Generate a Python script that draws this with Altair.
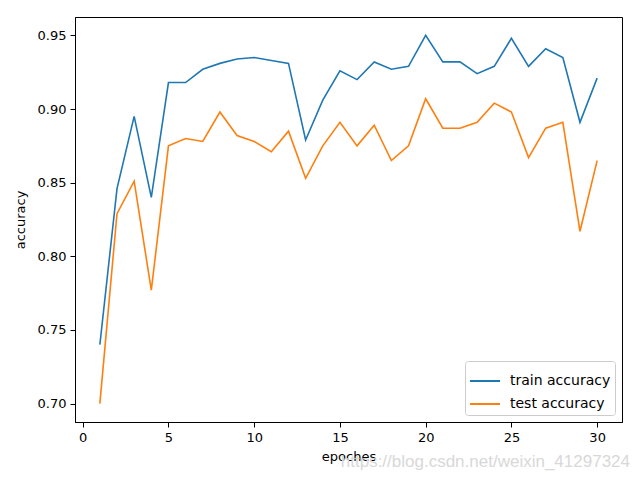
import altair as alt
import pandas as pd

epochs = list(range(1, 31))
train_acc = [0.740, 0.846, 0.895, 0.840, 0.918, 0.918, 0.927, 0.931, 0.934, 0.935,
             0.933, 0.931, 0.879, 0.906, 0.926, 0.920, 0.932, 0.927, 0.929, 0.950,
             0.932, 0.932, 0.924, 0.929, 0.948, 0.929, 0.941, 0.935, 0.891, 0.921]
test_acc = [0.700, 0.829, 0.851, 0.777, 0.875, 0.880, 0.878, 0.898, 0.882, 0.878,
            0.871, 0.885, 0.853, 0.875, 0.891, 0.875, 0.889, 0.865, 0.875, 0.907,
            0.887, 0.887, 0.891, 0.904, 0.898, 0.867, 0.887, 0.891, 0.817, 0.865]
series_names = ["train accuracy", "test accuracy"]
x_ticks = [0, 5, 10, 15, 20, 25, 30]
y_ticks = [0.70, 0.75, 0.80, 0.85, 0.90, 0.95]
watermark = "https://blog.csdn.net/weixin_41297324"

df = pd.DataFrame({
    "epoch": epochs * 2,
    "accuracy": train_acc + test_acc,
    "series": [series_names[0]] * 30 + [series_names[1]] * 30,
})

font = "DejaVu Sans"

lines = alt.Chart(df).mark_line(strokeWidth=1.6).encode(
    x=alt.X("epoch:Q",
            scale=alt.Scale(domain=[-0.45, 31.45], nice=False, zero=False),
            axis=alt.Axis(values=x_ticks, title="epoches", format="d",
                          titlePadding=6)),
    y=alt.Y("accuracy:Q",
            scale=alt.Scale(domain=[0.6875, 0.9625], nice=False, zero=False),
            axis=alt.Axis(values=y_ticks, title="accuracy", format=".2f",
                          titlePadding=10)),
    color=alt.Color("series:N",
                    scale=alt.Scale(domain=series_names, range=["#1f77b4", "#ff7f0e"]),
                    sort=series_names,
                    legend=alt.Legend(title=None, orient="bottom-right", offset=7,
                                      symbolType="stroke", symbolSize=900,
                                      symbolStrokeWidth=2, labelFontSize=14,
                                      labelFont=font, labelColor="black",
                                      strokeColor="#cccccc", fillColor="white",
                                      padding=4, cornerRadius=3, rowPadding=0,
                                      labelOffset=9)),
)

wm = alt.Chart(pd.DataFrame({"t": [watermark]})).mark_text(
    align="right", baseline="alphabetic", fontSize=17, font="Liberation Sans",
    color="#d8d8d8"
).encode(
    text="t:N",
    x=alt.value(555),
    y=alt.value(450),
)

chart = alt.layer(lines, wm).properties(
    width=547, height=405,
    autosize=alt.AutoSizeParams(type="none"),
    padding={"left": 67, "top": 9, "right": 8, "bottom": 49},
).configure_view(
    stroke="black", strokeWidth=1
).configure_axis(
    grid=False, domainColor="black", tickColor="black", tickSize=5,
    labelFont=font, labelFontSize=13, labelColor="black", labelPadding=4,
    titleFont=font, titleFontSize=13, titleFontWeight="normal", titleColor="black",
)

chart.save("out.html", embed_options={"renderer": "svg", "actions": False})
